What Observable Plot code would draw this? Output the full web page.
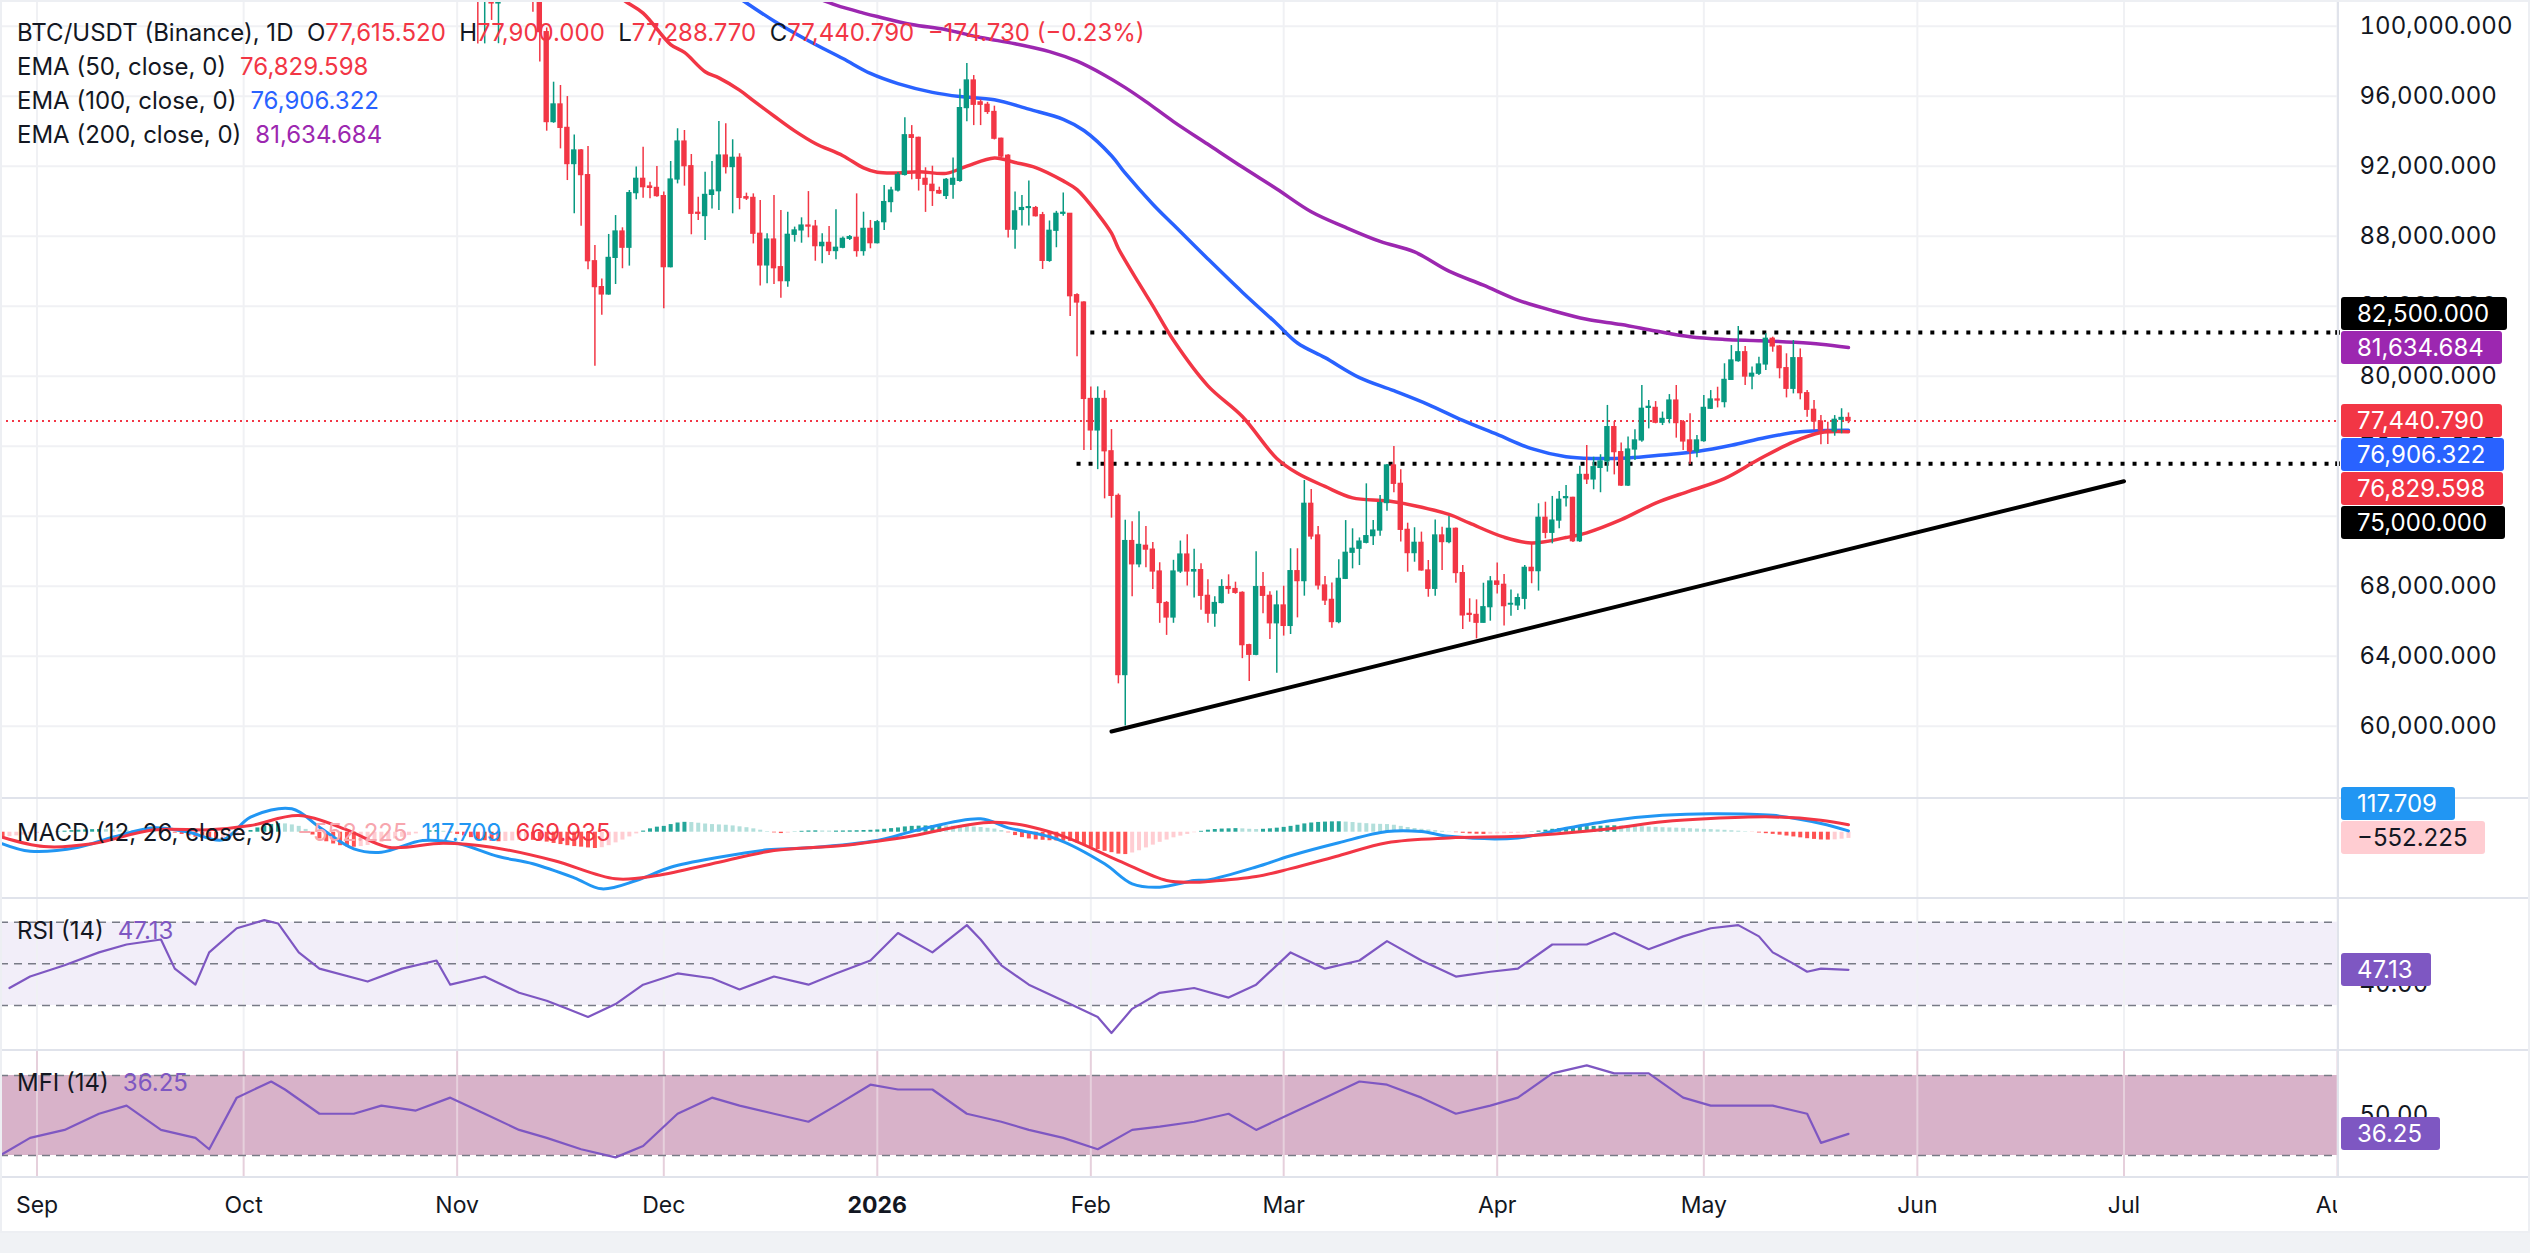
<!DOCTYPE html>
<html>
<head>
<meta charset="utf-8">
<script src="https://cdn.jsdelivr.net/npm/d3@7"></script>
<script src="https://cdn.jsdelivr.net/npm/@observablehq/plot@0.6"></script>
<style>
  html, body { margin: 0; padding: 0; background: #fff; }
  #chart { position: relative; width: 2530px; height: 1253px; overflow: hidden; background: #fff;
           font-family: Inter, "Noto Sans", Roboto, sans-serif; color: #131722; }
  .pane { position: absolute; left: 0; }
  .pane svg { display: block; overflow: visible; }
  .sep { position: absolute; left: 0; width: 2530px; height: 2px; background: #E0E3EB; }
  .vsep { position: absolute; left: 2337px; top: 0; width: 2px; height: 1177px; background: #E0E3EB; }
  .legend { position: absolute; left: 17px; font-size: 24px; white-space: nowrap; line-height: 34px; }
  .legend span.v { margin-left: 14px; }
  .tag { position: absolute; left: 2341px; height: 33px; line-height: 33px; border-radius: 3px;
         padding: 0 18px 0 16px; font-size: 24px; color: #fff; white-space: nowrap; box-sizing: border-box; }
  .frame { position: absolute; left: 0; top: 0; width: 2530px; height: 1233px; box-sizing: border-box;
           border: 2px solid #EDEFF3; pointer-events: none; }
  .foot { position: absolute; left: 0; top: 1233px; width: 2530px; height: 20px; background: #F0F2F5; }
</style>
</head>
<body>
<div id="chart"></div>
<script>
// ---------- price data (daily candles from 2025-11-01) ----------
const candleStart = "2025-11-01";
const candleOpen = [109600,110100,110600,106500,101500,103900,101300,103300,102200,104700,105900,103000,101600,99660,94520,95530,94190,92120,92900,91490,86570,85090,84670,86760,88270,87340,90460,91280,90840,90760,
  90290,86230,91240,93410,92000,89340,89150,90360,90570,92610,91950,92480,90230,90190,88140,86330,87810,86230,85430,88080,88330,88610,88550,87430,87620,87150,87340,87850,87910,87150,88420,
  87600,88800,89950,90610,91500,93770,93620,91280,90940,90580,90300,90940,91160,95320,96900,95650,95510,95100,93570,92600,88370,89500,89610,89610,89200,86590,88310,89280,89280,84630,84210,
  78700,76900,78700,75710,73160,62920,70580,69250,70310,70090,68840,67040,66210,68840,69810,68840,68920,67450,66430,67040,67950,67840,67620,64630,64080,67950,67450,65880,
  66900,65730,68860,68290,72710,70900,68040,67220,65950,68420,69910,70140,70480,70860,71180,72750,74900,73850,71220,69890,70480,68900,67850,70900,70520,71280,68750,66420,66360,65910,66800,
  68270,68080,66950,66900,67280,69050,68860,71910,71050,71750,73030,73050,70570,74360,74100,74760,75130,77090,75660,73750,75810,76330,78190,78190,77340,77560,78610,77370,76330,75700,
  76290,78140,78670,78520,79790,80860,81370,79980,80140,80670,82140,81700,80460,79280,81030,79030,78080,77410,76900,76840,77510,77615.52];
const candleHigh = [110600,111200,110800,107300,104500,104200,104000,103400,105000,106600,107000,105300,104000,99900,96800,96610,95980,93790,92960,93130,87470,85560,88100,89180,88480,90610,91950,93090,91090,91980,
  90520,92270,94140,94040,92670,90230,91660,92270,94550,94420,93510,92710,90460,90420,90040,88140,90330,89470,89370,88520,89050,90550,88900,88140,88550,89510,87950,88040,90420,89370,88900,
  88900,90900,90800,91640,94770,94320,93660,91910,92000,90800,91300,92470,96400,97870,97180,95790,95650,95430,93600,92660,90530,90330,91160,89700,89360,88870,89420,90470,89300,84710,84250,
  79390,79390,79170,76950,73270,71770,71690,72250,71410,70500,69340,67120,69480,70580,70940,70110,69280,68370,67400,68370,68650,68230,67680,64690,69970,68780,67680,67730,
  68000,70140,70140,74040,73530,71410,68550,68190,69510,71750,71280,70760,73850,71750,73180,74950,75980,74650,71600,71340,71090,69470,71790,71370,71980,71320,69180,67280,67220,68170,68550,
  69320,68670,67790,67560,69180,70420,72710,72800,73130,73410,73750,73090,74860,76040,75370,75510,78330,77410,76190,76520,76940,79470,78610,78550,77950,78950,79470,77470,77850,76610,
  78900,79180,79370,80710,81750,82840,81700,80520,81090,82420,82230,81750,81280,82040,81560,79180,78610,77750,77370,77750,78140,77900];
const candleLow = [109400,109500,105300,98990,98990,100330,99000,101500,101400,104300,102500,100800,97950,94000,94450,92990,91180,89280,88570,86080,80570,83490,84630,85240,86140,86290,90080,90170,90140,90230,
  83850,86190,90990,90860,88080,88900,87750,89560,89470,91560,89280,89510,90040,87560,85150,85280,85240,84460,85090,87660,87600,87910,86570,86420,86900,86650,87280,87750,86800,86860,87280,
  87560,88330,89340,90530,91440,91220,90580,89360,89700,90390,90100,90110,91080,94540,94320,94320,94960,93500,92470,87900,87260,88590,88590,89100,86100,86510,87340,89140,83410,81110,75760,
  75760,74660,72990,71890,62420,60010,67400,69060,69060,67810,65880,65190,65880,68730,68010,67320,66630,65880,65660,66990,67540,67540,63860,62560,64020,66430,64960,63030,
  65150,65240,66190,67430,70650,67790,66900,65600,65850,68380,68990,69180,70420,70330,70860,72290,73340,70520,68800,69370,68860,67370,67430,68900,70420,68170,65530,65940,64990,65890,66000,
  67560,65720,66290,66610,66650,68140,67720,70710,70420,71280,72520,70500,70500,73810,73510,73340,74520,74360,73700,73700,75180,76230,76990,77280,77180,77280,76460,75750,74950,75340,
  76230,78100,78190,78190,79790,80800,79470,79220,80040,80330,81370,79850,78760,78990,78650,77660,76900,76080,76100,76570,76710,77288.77];
const candleClose = [110100,110600,106500,101500,103900,101300,103300,102200,104700,105900,103000,101600,99660,94520,95530,94190,92120,92900,91490,86570,85090,84670,86760,88270,87340,90460,91280,90800,90760,90290,
  86230,91240,93410,92000,89280,89280,90360,90610,92610,91950,92480,90190,90150,88140,86330,87810,86170,85430,88080,88330,88610,88550,87430,87620,87150,87340,87850,87950,87150,88420,87600,
  88800,89950,90610,91500,93770,93620,91280,90940,90580,90440,91220,91280,95320,96900,95510,95510,95100,93570,92550,88370,89420,89610,89660,89140,86590,88310,89280,89340,84570,84210,78700,
  76900,78700,75710,73160,62920,70580,69250,70360,70090,68840,67040,66210,68840,69810,68840,68920,67450,66430,67040,67950,67840,67620,64630,64080,67950,67450,65880,66900,
  65730,68860,68290,72710,70840,68040,67180,65950,68420,69910,70140,70550,70860,71180,72750,74900,73850,71220,69890,70480,68900,67850,70900,70520,71280,68750,66330,66360,65910,66800,68270,
  68080,66860,66990,67320,69050,68860,71910,71050,71750,72940,73090,70570,74360,74100,74800,75130,77090,75660,73750,75810,76330,78140,78250,77340,77560,78610,77320,76270,75700,76330,
  78190,78670,78610,79790,80900,81370,79980,80140,80670,82140,81700,80460,79280,81030,79030,78080,77410,76900,76840,77510,77615.52,77440.79];

// ---------- moving averages ----------
const ema50 = [["2025-11-18",104200],["2025-11-25",101550],["2025-11-28",100750],["2025-12-02",98950],["2025-12-04",98500],["2025-12-07",97400],["2025-12-09",97050],["2025-12-12",96350],["2025-12-14",95750],["2025-12-17",94870],["2025-12-20",94020],["2025-12-23",93300],["2025-12-27",92600],["2025-12-30",91900],["2026-01-01",91650],["2026-01-04",91610],["2026-01-07",91690],["2026-01-11",91590],["2026-01-14",92000],["2026-01-18",92470],["2026-01-21",92210],["2026-01-24",91920],["2026-01-28",91160],["2026-01-30",90660],["2026-02-02",89280],["2026-02-04",88170],["2026-02-05",87300],["2026-02-08",85300],["2026-02-10",84020],["2026-02-13",82050],["2026-02-18",79450],["2026-02-23",77700],["2026-02-28",75300],["2026-03-03",74450],["2026-03-07",73700],["2026-03-11",73050],["2026-03-16",72880],["2026-03-20",72600],["2026-03-25",72100],["2026-03-28",71600],["2026-04-02",70800],["2026-04-06",70470],["2026-04-11",70780],["2026-04-14",71050],["2026-04-19",71800],["2026-04-24",72750],["2026-04-29",73450],["2026-05-04",74150],["2026-05-09",75250],["2026-05-14",76250],["2026-05-18",76780],["2026-05-22",76829.598]];
const ema100 = [["2025-12-08",102700],["2025-12-12",101600],["2025-12-17",100300],["2025-12-22",99170],["2025-12-27",98150],["2025-12-31",97300],["2026-01-04",96720],["2026-01-09",96220],["2026-01-13",95980],["2026-01-18",95800],["2026-01-23",95260],["2026-01-28",94680],["2026-01-31",94040],["2026-02-04",92600],["2026-02-06",91600],["2026-02-10",89830],["2026-02-13",88650],["2026-02-18",86700],["2026-02-23",84800],["2026-02-28",83000],["2026-03-03",81900],["2026-03-07",81060],["2026-03-12",79920],["2026-03-17",79170],["2026-03-22",78380],["2026-03-27",77470],["2026-04-01",76670],["2026-04-06",75860],["2026-04-11",75400],["2026-04-15",75300],["2026-04-20",75330],["2026-04-25",75500],["2026-04-30",75700],["2026-05-05",76050],["2026-05-10",76500],["2026-05-15",76820],["2026-05-18",76890],["2026-05-22",76906.322]];
const ema200 = [["2025-12-15",102800],["2025-12-22",101800],["2025-12-26",101200],["2025-12-30",100750],["2026-01-01",100550],["2026-01-06",100100],["2026-01-11",99800],["2026-01-16",99350],["2026-01-21",99000],["2026-01-26",98550],["2026-01-30",98000],["2026-02-03",97200],["2026-02-06",96490],["2026-02-09",95690],["2026-02-13",94550],["2026-02-18",93250],["2026-02-23",91950],["2026-02-28",90700],["2026-03-05",89400],["2026-03-10",88500],["2026-03-15",87700],["2026-03-20",87100],["2026-03-25",86000],["2026-03-30",85200],["2026-04-04",84350],["2026-04-09",83750],["2026-04-14",83250],["2026-04-19",82950],["2026-04-24",82580],["2026-04-29",82250],["2026-05-04",82100],["2026-05-09",82030],["2026-05-14",81940],["2026-05-18",81830],["2026-05-22",81634.684]];

// ---------- drawn levels ----------
const lastPrice = 77440.79;
const levels = [{value: 82500, from: "2026-02-01"}, {value: 75000, from: "2026-01-30"}];
const trendline = [["2026-02-04", 59700], ["2026-07-01", 74000]];

// ---------- indicators ----------
const macdLine = [["2025-08-27",-1032],["2025-08-31",-1690],["2025-09-07",-1335],["2025-09-12",-445],["2025-09-18",390],["2025-09-23",0],["2025-09-28",-680],["2025-10-02",1335],["2025-10-08",2080],["2025-10-12",445],["2025-10-17",-1480],["2025-10-21",-1780],["2025-10-27",-740],["2025-11-01",-980],["2025-11-07",-2163],["2025-11-12",-2813],["2025-11-18",-4060],["2025-11-22",-5040],["2025-11-27",-4300],["2025-12-02",-3115],["2025-12-09",-2225],["2025-12-16",-1570],["2025-12-22",-1390],["2026-01-01",-740],["2026-01-07",210],["2026-01-16",1190],["2026-01-20",390],["2026-01-27",-590],["2026-02-03",-2813],["2026-02-07",-4590],["2026-02-11",-4890],["2026-02-16",-4300],["2026-02-18",-4245],["2026-02-25",-3096],["2026-03-02",-2090],["2026-03-09",-935],["2026-03-16",62],["2026-03-21",62],["2026-03-25",-370],["2026-04-04",-510],["2026-04-11",356],["2026-04-18",1073],["2026-04-25",1500],["2026-05-02",1650],["2026-05-11",1500],["2026-05-18",783],["2026-05-22",117.709]];
const macdSignal = [["2025-08-27",-445],["2025-09-02",-1273],["2025-09-09",-1032],["2025-09-18",213],["2025-09-26",213],["2025-10-02",596],["2025-10-09",1486],["2025-10-16",213],["2025-10-22",-1335],["2025-10-30",-979],["2025-11-06",-1335],["2025-11-15",-2520],["2025-11-24",-4150],["2025-11-30",-3855],["2025-12-09",-2670],["2025-12-17",-1630],["2025-12-27",-1185],["2026-01-05",-445],["2026-01-18",890],["2026-01-27",-148],["2026-02-05",-2520],["2026-02-12",-4300],["2026-02-16",-4450],["2026-02-18",-4390],["2026-02-25",-3950],["2026-03-02",-3240],["2026-03-09",-2090],["2026-03-16",-935],["2026-03-25",-510],["2026-04-04",-370],["2026-04-11",-80],["2026-04-18",356],["2026-04-25",925],["2026-05-02",1220],["2026-05-11",1360],["2026-05-18",1073],["2026-05-22",669.935]];
// histogram, one bar per day from 2025-08-27
const macdHistStart = "2025-08-27";
const macdHist = [-450,-400,-330,-260,-180,
  -120,-60,-10,40,90,140,180,210,230,240, 230,210,190,170,150,120,90,60,30,0, -80,-200,-330,-450,-560,-650,-700,-650,-520,-330,
  -100,150,380,560,680,760,740,650,520,250, -250,-600,-850,-1050,-1200,-1300,-1335,-1280,-1180,-1050, -900,-750,-600,-450,-300,-150,0,120,150,80,-60,
  -200,-330,-480,-650,-760,-820,-850,-830,-780,-720, -700,-720,-780,-880,-1000,-1100,-1200,-1280,-1330,-1400, -1450,-1380,-1200,-950,-700,-420,-150,100,300,450,
  520,680,820,880,860,800,730,680,650,620, 560,480,400,300,180,50,-60,-120,-80,20, 80,110,120,110,100,100,110,120,130,150,170,
  200,260,320,380,470,520,540,560,580,590, 570,540,500,480,460,420,350,280,150,-50, -300,-480,-600,-680,-720,-760,-780,-800,-820,-950,-1150,
  -1350,-1550,-1700,-1820,-1950,-1990,-1850,-1650,-1400,-1150, -900,-700,-500,-350,-200,-50,80,180,240,280, 300,320,300,260,240,260,300,360,
  430,520,620,740,820,870,900,920,930,900, 860,800,760,720,700,680,620,520,420,330, 260,200,140,80,20,-40,-100,-150,-180,-200,-180,
  -160,-140,-120,-90,-50,20,100,180,260,320, 380,430,470,500,520,540,560,570,560,540, 520,490,460,430,400,380,360,340,310,280,
  250,230,200,170,130,90,40,-10,-70,-130, -190,-260,-340,-420,-500,-580,-640,-690,-700,-680, -620,-552.225];
const rsi = [["2025-08-28",38.4],["2025-08-31",43.9],["2025-09-05",49.3],["2025-09-10",55.5],["2025-09-14",59.3],["2025-09-19",61.7],["2025-09-21",47.7],["2025-09-24",40],["2025-09-26",55.5],["2025-09-30",67.1],["2025-10-04",71],["2025-10-06",69.4],["2025-10-09",55.5],["2025-10-12",47.7],["2025-10-19",41.5],["2025-10-24",47.7],["2025-10-29",51.6],["2025-10-31",40],["2025-11-05",43.9],["2025-11-10",36.1],["2025-11-14",32.3],["2025-11-17",28.4],["2025-11-20",24.5],["2025-11-24",30.7],["2025-11-28",40],["2025-12-03",45.4],["2025-12-08",43.1],["2025-12-12",37.7],["2025-12-17",43.9],["2025-12-22",40],["2025-12-26",45.4],["2025-12-31",51.6],["2026-01-04",64.8],["2026-01-09",55.5],["2026-01-14",68.6],["2026-01-16",61.7],["2026-01-19",49.3],["2026-01-23",40],["2026-01-28",32.3],["2026-02-02",24.5],["2026-02-04",16.8],["2026-02-07",28.4],["2026-02-11",36.1],["2026-02-16",38.4],["2026-02-21",33.8],["2026-02-25",40],["2026-03-02",55.5],["2026-03-07",47.7],["2026-03-12",51.6],["2026-03-16",60.9],["2026-03-21",51.6],["2026-03-26",43.9],["2026-03-31",46.2],["2026-04-04",47.7],["2026-04-09",59.3],["2026-04-14",59.3],["2026-04-18",64.8],["2026-04-23",57],["2026-04-28",63.2],["2026-05-02",67.1],["2026-05-06",68.6],["2026-05-09",63.2],["2026-05-11",55.5],["2026-05-14",50.1],["2026-05-16",46.2],["2026-05-18",47.7],["2026-05-22",47.13]];
const mfi = [["2025-08-27",21.1],["2025-08-31",33.2],["2025-09-05",39.2],["2025-09-10",51.3],["2025-09-14",57.4],["2025-09-19",39.2],["2025-09-24",33.2],["2025-09-26",24.7],["2025-09-30",63.4],["2025-10-05",75.5],["2025-10-07",69.5],["2025-10-12",51.3],["2025-10-17",51.3],["2025-10-21",57.4],["2025-10-26",53.7],["2025-10-31",63.4],["2025-11-05",51.3],["2025-11-10",39.2],["2025-11-14",33.2],["2025-11-19",24.7],["2025-11-24",18.6],["2025-11-28",27.1],["2025-12-03",51.3],["2025-12-08",63.4],["2025-12-12",57.4],["2025-12-17",51.3],["2025-12-22",45.3],["2025-12-26",57.4],["2025-12-31",73.1],["2026-01-04",69.5],["2026-01-09",69.5],["2026-01-14",51.3],["2026-01-19",45.3],["2026-01-23",39.2],["2026-01-28",33.2],["2026-02-02",24.7],["2026-02-07",39.2],["2026-02-11",41.6],["2026-02-16",45.3],["2026-02-21",51.3],["2026-02-25",39.2],["2026-03-02",51.3],["2026-03-07",63.4],["2026-03-12",75.5],["2026-03-16",73.1],["2026-03-21",63.4],["2026-03-26",51.3],["2026-03-31",57.4],["2026-04-04",63.4],["2026-04-09",81.6],["2026-04-14",87.6],["2026-04-18",81.6],["2026-04-23",81.6],["2026-04-28",63.4],["2026-05-02",57.4],["2026-05-07",57.4],["2026-05-11",57.4],["2026-05-16",51.3],["2026-05-18",29.5],["2026-05-22",36.25]];

// ---------- axes ----------
const priceTicks = [60000, 64000, 68000, 72000, 76000, 80000, 84000, 88000, 92000, 96000, 100000];
const monthStarts = ["2025-09-01","2025-10-01","2025-11-01","2025-12-01","2026-01-01","2026-02-01","2026-03-01","2026-04-01","2026-05-01","2026-06-01","2026-07-01","2026-08-01"];
const monthNames = ["Jan","Feb","Mar","Apr","May","Jun","Jul","Aug","Sep","Oct","Nov","Dec"];

// ---------- styling ----------
const FONT = 'Inter, "Noto Sans", Roboto, sans-serif';
const UP = "#089981", DOWN = "#F23645";
const C50 = "#F23645", C100 = "#2962FF", C200 = "#9C27B0";
const GRID = "#F0F1F4";
const W = 2530, MR = 193;
const xDomain = [new Date("2025-08-26T16:48:00Z"), new Date("2026-08-01T00:00:00Z")];

const day = s => new Date(s + "T00:00:00Z");
const pairs = arr => arr.map(([d, v]) => ({date: day(d), value: v}));
const months = monthStarts.map(day);
const fmtPrice = d3.format(",.3f");

const candles = candleOpen.map((o, i) => ({
  date: new Date(day(candleStart).getTime() + i * 864e5),
  open: o, high: candleHigh[i], low: candleLow[i], close: candleClose[i]
}));
// histogram bars: colour by sign and by direction against the previous bar
const hist = macdHist.map((v, i) => {
  const p = i > 0 ? macdHist[i - 1] : v;
  const color = v >= 0 ? (v >= p ? "#26A69A" : "#B2DFDB") : (v <= p ? "#FF5252" : "#FFCDD2");
  return {date: new Date(day(macdHistStart).getTime() + i * 864e5), value: v, color};
});

const chart = document.getElementById("chart");
function addPane(svg, top) {
  const div = document.createElement("div");
  div.className = "pane"; div.style.top = top + "px";
  div.appendChild(svg); chart.appendChild(div);
}
const base = (height) => ({
  width: W, height, marginLeft: 0, marginRight: MR, marginTop: 0, marginBottom: 0,
  style: {fontFamily: FONT, fontSize: "24px", color: "#131722", background: "transparent"},
  x: {type: "utc", domain: xDomain, axis: null}
});

// ---------- main price pane ----------
const MAIN_H = 798;
const mainPlot = Plot.plot({
  ...base(MAIN_H),
  y: {domain: [55868.6, 101468.6], axis: null},
  marks: [
    Plot.gridY(priceTicks, {stroke: GRID, strokeOpacity: 1, strokeWidth: 2}),
    Plot.gridX(months, {stroke: GRID, strokeOpacity: 1, strokeWidth: 2}),
    Plot.axisY(priceTicks, {anchor: "right", tickSize: 0, tickPadding: 22, tickFormat: fmtPrice, fontSize: 24}),
    Plot.ruleY([lastPrice], {stroke: DOWN, strokeWidth: 2, strokeDasharray: "2,4"}),
    Plot.ruleY(levels, {y: "value", x1: d => day(d.from), x2: () => xDomain[1], stroke: "#000", strokeWidth: 4, strokeDasharray: "4,8"}),
    // small end markers where the drawn levels meet the price scale
    Plot.dot(levels, {x: () => xDomain[1], y: "value", symbol: "square", r: 2.6, fill: "#000"}),
    Plot.line(pairs(trendline), {x: "date", y: "value", stroke: "#000", strokeWidth: 4, clip: true}),
    Plot.line(pairs(ema200), {x: "date", y: "value", stroke: C200, strokeWidth: 3.5, curve: "catmull-rom", clip: true}),
    Plot.line(pairs(ema100), {x: "date", y: "value", stroke: C100, strokeWidth: 3.5, curve: "catmull-rom", clip: true}),
    Plot.line(pairs(ema50), {x: "date", y: "value", stroke: C50, strokeWidth: 3.5, curve: "catmull-rom", clip: true}),
    Plot.ruleX(candles, {filter: d => d.close >= d.open, x: "date", y1: "low", y2: "high", stroke: UP, strokeWidth: 1.5, clip: true}),
    Plot.ruleX(candles, {filter: d => d.close < d.open, x: "date", y1: "low", y2: "high", stroke: DOWN, strokeWidth: 1.5, clip: true}),
    Plot.rect(candles, {filter: d => d.close >= d.open, x1: "date", x2: "date", y1: "open", y2: "close",
      insetLeft: -2.7, insetRight: -2.7, insetTop: -0.6, insetBottom: -0.6, fill: UP, clip: true}),
    Plot.rect(candles, {filter: d => d.close < d.open, x1: "date", x2: "date", y1: "open", y2: "close",
      insetLeft: -2.7, insetRight: -2.7, insetTop: -0.6, insetBottom: -0.6, fill: DOWN, clip: true})
  ]
});
addPane(mainPlot, 0);

// ---------- MACD pane ----------
const MACD_TOP = 798, MACD_H = 100;
const macdPlot = Plot.plot({
  ...base(MACD_H),
  y: {domain: [-5900, 3000], axis: null},
  color: {type: "identity"},
  marks: [
    Plot.gridX(months, {stroke: GRID, strokeOpacity: 1, strokeWidth: 2}),
    Plot.ruleX(hist, {x: "date", y1: 0, y2: "value", stroke: "color", strokeWidth: 4, clip: true}),
    Plot.line(pairs(macdLine), {x: "date", y: "value", stroke: "#2196F3", strokeWidth: 3, curve: "catmull-rom", clip: true}),
    Plot.line(pairs(macdSignal), {x: "date", y: "value", stroke: "#F23645", strokeWidth: 3, curve: "catmull-rom", clip: true})
  ]
});
addPane(macdPlot, MACD_TOP);

// ---------- RSI pane ----------
const RSI_TOP = 898, RSI_H = 152;
const rsiPlot = Plot.plot({
  ...base(RSI_H),
  y: {domain: [8.39, 81.38], axis: null},
  marks: [
    Plot.rectY([{lo: 30, hi: 70}], {y1: "lo", y2: "hi", fill: "#7E57C2", fillOpacity: 0.1}),
    Plot.gridX(months, {stroke: GRID, strokeOpacity: 1, strokeWidth: 2}),
    Plot.ruleY([70, 50, 30], {stroke: "#787B86", strokeWidth: 1.5, strokeDasharray: "8,6"}),
    Plot.axisY([40], {anchor: "right", tickSize: 0, tickPadding: 22, tickFormat: d3.format(".2f"), fontSize: 24}),
    Plot.line(pairs(rsi), {x: "date", y: "value", stroke: "#7E57C2", strokeWidth: 2.2, clip: true})
  ]
});
addPane(rsiPlot, RSI_TOP);

// ---------- MFI pane ----------
const MFI_TOP = 1050, MFI_H = 127;
const mfiPlot = Plot.plot({
  ...base(MFI_H),
  y: {domain: [3.5, 98.75], axis: null},
  marks: [
    Plot.rectY([{lo: 20, hi: 80}], {y1: "lo", y2: "hi", fill: "#D8B2C9"}),
    Plot.gridX(months, {stroke: "#E6D0DC", strokeOpacity: 1, strokeWidth: 2}),
    Plot.ruleY([80, 20], {stroke: "#787B86", strokeWidth: 1.5, strokeDasharray: "8,6"}),
    Plot.axisY([50], {anchor: "right", tickSize: 0, tickPadding: 22, tickFormat: d3.format(".2f"), fontSize: 24}),
    Plot.line(pairs(mfi), {x: "date", y: "value", stroke: "#7E57C2", strokeWidth: 2.2, clip: true})
  ]
});
addPane(mfiPlot, MFI_TOP);

// ---------- time axis ----------
const monthLabel = d => d.getUTCMonth() === 0 ? String(d.getUTCFullYear()) : monthNames[d.getUTCMonth()];
const timePlot = Plot.plot({
  ...base(56),
  y: {domain: [0, 1], axis: null},
  marks: [
    Plot.text(months.filter(d => d.getUTCMonth() !== 0), {x: d => d, frameAnchor: "middle", text: monthLabel, fontSize: 23, fill: "#131722", clip: true}),
    Plot.text(months.filter(d => d.getUTCMonth() === 0), {x: d => d, frameAnchor: "middle", text: monthLabel, fontSize: 23, fontWeight: "bold", fill: "#131722", clip: true})
  ]
});
addPane(timePlot, 1177);

// ---------- separators / frame ----------
for (const top of [797, 897, 1049, 1176]) {
  const s = document.createElement("div"); s.className = "sep"; s.style.top = top + "px"; chart.appendChild(s);
}
const v = document.createElement("div"); v.className = "vsep"; chart.appendChild(v);
const foot = document.createElement("div"); foot.className = "foot"; chart.appendChild(foot);
const frame = document.createElement("div"); frame.className = "frame"; chart.appendChild(frame);

// ---------- legends ----------
function legend(top, html) {
  const d = document.createElement("div"); d.className = "legend"; d.style.top = top + "px"; d.innerHTML = html; chart.appendChild(d);
}
const last = candles[candles.length - 1], prev = candles[candles.length - 2];
const chg = last.close - prev.close;
const red = s => `<span style="color:${DOWN}">${s}</span>`;
legend(16, `BTC/USDT (Binance), 1D&nbsp;&nbsp;O${red(fmtPrice(last.open))}&nbsp;&nbsp;H${red(fmtPrice(last.high))}&nbsp;&nbsp;L${red(fmtPrice(last.low))}&nbsp;&nbsp;C${red(fmtPrice(last.close))}&nbsp;&nbsp;${red(d3.format(",.3f")(chg).replace("-", "−") + " (" + d3.format(".2f")(chg / prev.close * 100).replace("-", "−") + "%)")}`);
legend(50, `EMA (50, close, 0)<span class="v" style="color:${C50}">${fmtPrice(ema50[ema50.length-1][1])}</span>`);
legend(84, `EMA (100, close, 0)<span class="v" style="color:${C100}">${fmtPrice(ema100[ema100.length-1][1])}</span>`);
legend(118, `EMA (200, close, 0)<span class="v" style="color:${C200}">${fmtPrice(ema200[ema200.length-1][1])}</span>`);
const macdLast = macdLine[macdLine.length-1][1], sigLast = macdSignal[macdSignal.length-1][1];
const histLast = macdHist[macdHist.length-1];
legend(MACD_TOP + 18, `MACD (12, 26, close, 9)<span class="v" style="color:#F7A6AE">${d3.format(".3f")(histLast)}</span><span class="v" style="color:#2196F3">${d3.format(".3f")(macdLast)}</span><span class="v" style="color:#F23645">${d3.format(".3f")(sigLast)}</span>`);
legend(RSI_TOP + 16, `RSI (14)<span class="v" style="color:#7E57C2">${rsi[rsi.length-1][1].toFixed(2)}</span>`);
legend(MFI_TOP + 16, `MFI (14)<span class="v" style="color:#7E57C2">${mfi[mfi.length-1][1].toFixed(2)}</span>`);

// ---------- price scale tags ----------
const TAG_H = 34;
function placeTags(list) {
  const placed = [];
  for (const t of list) {
    let y = t.y, guard = 0, hit;
    while ((hit = placed.find(p => Math.abs(p.y - y) < TAG_H - 0.5)) && guard++ < 20) {
      y = t.value < hit.value ? hit.y + TAG_H : hit.y - TAG_H;
    }
    t.y = y; placed.push(t);
  }
  return list;
}
function drawTags(plot, top, list, fmt) {
  const ys = plot.scale("y");
  const items = list.map(t => ({...t, y: top + ys.apply(t.value)}));
  for (const t of placeTags(items)) {
    const d = document.createElement("div");
    d.className = "tag";
    d.style.top = (t.y - 16.5) + "px";
    d.style.background = t.bg; d.style.color = t.fg || "#fff";
    d.textContent = fmt(t.value);
    chart.appendChild(d);
  }
}
drawTags(mainPlot, 0, [
  {value: lastPrice, bg: DOWN},
  {value: ema200[ema200.length-1][1], bg: C200},
  {value: ema100[ema100.length-1][1], bg: C100},
  {value: ema50[ema50.length-1][1], bg: C50},
  {value: levels[0].value, bg: "#000"},
  {value: levels[1].value, bg: "#000"}
], fmtPrice);
drawTags(macdPlot, MACD_TOP, [
  {value: histLast, bg: "#FFCDD2", fg: "#131722"},
  {value: macdLast, bg: "#2196F3"}
], d3.format(".3f"));
drawTags(rsiPlot, RSI_TOP, [{value: rsi[rsi.length-1][1], bg: "#7E57C2"}], d3.format(".2f"));
drawTags(mfiPlot, MFI_TOP, [{value: mfi[mfi.length-1][1], bg: "#7E57C2"}], d3.format(".2f"));
</script>
</body>
</html>
